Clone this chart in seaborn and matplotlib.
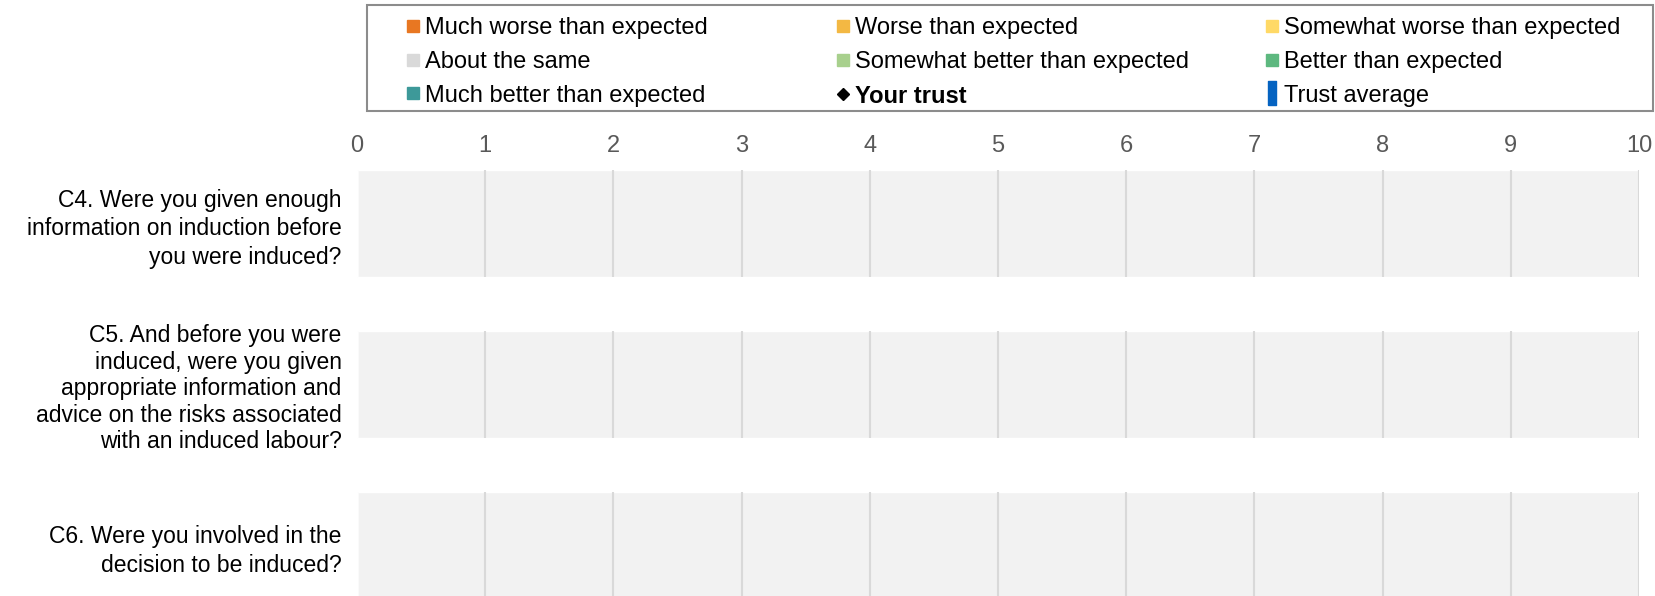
import numpy as np
import pandas as pd
import seaborn as sns
import matplotlib.pyplot as plt
from matplotlib.lines import Line2D
from matplotlib.patches import Rectangle

# data
questions = [
    "C4. Were you given enough\ninformation on induction before\nyou were induced?",
    "C5. And before you were\ninduced, were you given\nappropriate information and\nadvice on the risks associated\nwith an induced labour?",
    "C6. Were you involved in the\ndecision to be induced?",
]
responses = [
    "Much worse than expected", "Worse than expected", "Somewhat worse than expected",
    "About the same", "Somewhat better than expected", "Better than expected",
    "Much better than expected",
]
much_worse = [0, 0, 0]
worse = [0, 0, 0]
somewhat_worse = [0, 0, 0]
about_same = [0, 0, 0]
somewhat_better = [0, 0, 0]
better = [0, 0, 0]
much_better = [0, 0, 0]
your_trust = [np.nan, np.nan, np.nan]
trust_average = [np.nan, np.nan, np.nan]
scale_max = [10, 10, 10]
x_ticks = list(range(0, 11))

colors = ["#E87722", "#F3B843", "#FFD966", "#D9D9D9", "#A8D08D", "#5DB87F", "#3D9999"]

sns.set_theme(style="white")
plt.rcParams['font.family'] = ['Liberation Sans', 'DejaVu Sans']

W, H = 1655, 596
fig = plt.figure(figsize=(W / 100, H / 100), dpi=100)
ax = fig.add_axes([357 / W, 0, (1639 - 357) / W, 1 - 160 / H])

bar_h = 0.665
df = pd.DataFrame({"question": questions, "max": scale_max})
sns.barplot(data=df, x="max", y="question", color="#F2F2F2", orient="h",
            width=bar_h, saturation=1, ax=ax, zorder=1)

# gridlines only inside each band
for i in range(len(questions)):
    ax.vlines(x_ticks, i - bar_h / 2, i + bar_h / 2, color="#D9D9D9", lw=1.5, zorder=2)

# stacked response segments
series = [much_worse, worse, somewhat_worse, about_same, somewhat_better, better, much_better]
left = np.zeros(len(questions))
for vals, c in zip(series, colors):
    ax.barh(questions, vals, left=left, height=bar_h, color=c, zorder=3)
    left += np.array(vals)

trust_df = pd.DataFrame({"question": questions, "trust": your_trust, "avg": trust_average}).dropna()
if len(trust_df):
    ax.scatter(trust_df["trust"], trust_df["question"], marker="D", color="black", zorder=5)
    ax.scatter(trust_df["avg"], trust_df["question"], marker="|", color="#0563C1", zorder=4)

ax.set_xlim(0, 10)
ax.set_ylim(2.314, -0.394)
ax.set_xticks(x_ticks)
ax.xaxis.tick_top()
ax.tick_params(axis="x", length=0, pad=2, labelsize=17, labelcolor="#595959")
ax.tick_params(axis="y", length=0, pad=11, labelsize=16.5, labelcolor="black")
# the long C5 label is a bit tighter in the original
for lab, sp in zip(ax.get_yticklabels(), [1.32, 1.2, 1.32]):
    lab.set_linespacing(sp)
ax.set_xlabel("")
ax.set_ylabel("")
for s in ax.spines.values():
    s.set_visible(False)

# legend: three fixed-width columns inside one frame
def sq(c):
    return Line2D([], [], ls="none", marker="s", markersize=8.5, color=c)

bar_marker = [(-0.18, -0.5), (0.18, -0.5), (0.18, 0.5), (-0.18, 0.5), (-0.18, -0.5)]
h = [sq(c) for c in colors]
trust_h = Line2D([], [], ls="none", marker="D", markersize=6, color="black")
avg_h = Line2D([], [], ls="none", marker=bar_marker, markersize=17, color="#0563C1")
columns = [
    ([h[0], h[3], h[6]], [responses[0], responses[3], responses[6]]),
    ([h[1], h[4], trust_h], [responses[1], responses[4], "Your trust"]),
    ([h[2], h[5], avg_h], [responses[2], responses[5], "Trust average"]),
]
col_x = [404, 834, 1263]
for (hs, ls), x0 in zip(columns, col_x):
    leg = fig.legend(hs, ls, loc="upper left", bbox_to_anchor=(x0 / W, 1 - 17 / H),
                     fontsize=17, frameon=False, handlelength=0.8, handletextpad=0.1,
                     borderpad=0, labelspacing=0.5, borderaxespad=0, labelcolor="black")
    for t in leg.get_texts():
        if t.get_text() == "Your trust":
            t.set_fontweight("bold")
fig.add_artist(Rectangle((367 / W, 1 - 111 / H), (1653 - 367) / W, 106 / H,
                         transform=fig.transFigure, fill=False,
                         edgecolor="#8C8C8C", lw=1.5))

fig.savefig("out.png", dpi=100)
